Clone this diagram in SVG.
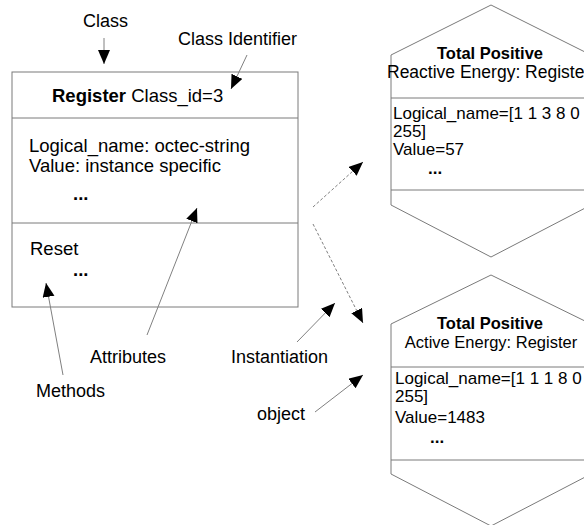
<svg xmlns="http://www.w3.org/2000/svg" width="584" height="525" viewBox="0 0 584 525">
  <style>
    .t { font-family: "Liberation Sans", Arial, sans-serif; font-size: 18px; fill: #000; }
    .c { font-family: "Liberation Sans", Arial, sans-serif; font-size: 18.5px; fill: #000; }
    .h { font-family: "Liberation Sans", Arial, sans-serif; font-size: 16.5px; fill: #000; }
    .b { font-family: "Liberation Sans", Arial, sans-serif; font-size: 17px; fill: #000; }
    .bold { font-weight: bold; }
    .shape { fill: #fff; stroke: #7a7a7a; stroke-width: 1; }
    .div { stroke: #7a7a7a; stroke-width: 1; fill: none; }
    .arrow { stroke: #808080; stroke-width: 1; fill: none; marker-end: url(#head); }
    .dash { stroke-dasharray: 3 2; }
  </style>
  <defs>
    <marker id="head" markerUnits="userSpaceOnUse" markerWidth="16" markerHeight="14" refX="14" refY="6" orient="auto">
      <path d="M0,0 L14,6 L0,12 Z" fill="#000"/>
    </marker>
  </defs>
  <rect width="584" height="525" fill="#fff"/>

  <!-- Class box -->
  <g id="class-register">
    <rect class="shape" x="12" y="72" width="286" height="235"/>
    <line class="div" x1="12" y1="118" x2="298" y2="118"/>
    <line class="div" x1="12" y1="223" x2="298" y2="223"/>
    <text class="c" x="52" y="102"><tspan class="bold">Register</tspan> Class_id=3</text>
    <text class="c" x="29" y="152">Logical_name: octec-string</text>
    <text class="c" x="29" y="172">Value: instance specific</text>
    <text class="c bold" x="73" y="200">...</text>
    <text class="c" x="30" y="255">Reset</text>
    <text class="c bold" x="73" y="276">...</text>
  </g>

  <!-- Object: reactive energy -->
  <g id="object-reactive">
    <polygon class="shape" points="491,5 591,55 591,205 491,257 391,205 391,55"/>
    <line class="div" x1="391" y1="98" x2="591" y2="98"/>
    <line class="div" x1="391" y1="190" x2="591" y2="190"/>
    <text class="h bold" x="490" y="59" text-anchor="middle">Total Positive</text>
    <text class="h" x="387" y="78" style="font-size:17.5px">Reactive Energy: Register</text>
    <text class="b" x="393" y="119">Logical_name=[1 1 3 8 0</text>
    <text class="b" x="393" y="137">255]</text>
    <text class="b" x="393" y="155">Value=57</text>
    <text class="b bold" x="428" y="174">...</text>
  </g>

  <!-- Object: active energy -->
  <g id="object-active">
    <polygon class="shape" points="491,275 591,324 591,474 491,526 391,474 391,324"/>
    <line class="div" x1="391" y1="367" x2="591" y2="367"/>
    <line class="div" x1="391" y1="460" x2="591" y2="460"/>
    <text class="h bold" x="490" y="329" text-anchor="middle">Total Positive</text>
    <text class="h" x="491" y="348" text-anchor="middle">Active Energy: Register</text>
    <text class="b" x="395" y="384">Logical_name=[1 1 1 8 0</text>
    <text class="b" x="395" y="402">255]</text>
    <text class="b" x="395" y="423">Value=1483</text>
    <text class="b bold" x="430" y="443">...</text>
  </g>

  <!-- Callout labels -->
  <g id="label-class"><text class="t" x="83" y="27">Class</text></g>
  <g id="label-class-identifier"><text class="t" x="178" y="45">Class Identifier</text></g>
  <g id="label-attributes"><text class="t" x="90" y="363">Attributes</text></g>
  <g id="label-instantiation"><text class="t" x="231" y="363">Instantiation</text></g>
  <g id="label-methods"><text class="t" x="36" y="397">Methods</text></g>
  <g id="label-object"><text class="t" x="257" y="420">object</text></g>

  <!-- Connectors -->
  <g id="connectors">
    <line class="arrow" x1="104" y1="38" x2="104" y2="64"/>
    <line class="arrow" x1="247" y1="55" x2="231" y2="89"/>
    <line class="arrow" x1="147" y1="335" x2="197" y2="208"/>
    <line class="arrow" x1="63" y1="375" x2="46" y2="283"/>
    <line class="arrow" x1="297" y1="342" x2="335" y2="303"/>
    <line class="arrow" x1="315" y1="412" x2="363" y2="375"/>
    <line class="arrow dash" x1="313" y1="207" x2="363" y2="162"/>
    <line class="arrow dash" x1="313" y1="224" x2="363" y2="323"/>
  </g>
</svg>
